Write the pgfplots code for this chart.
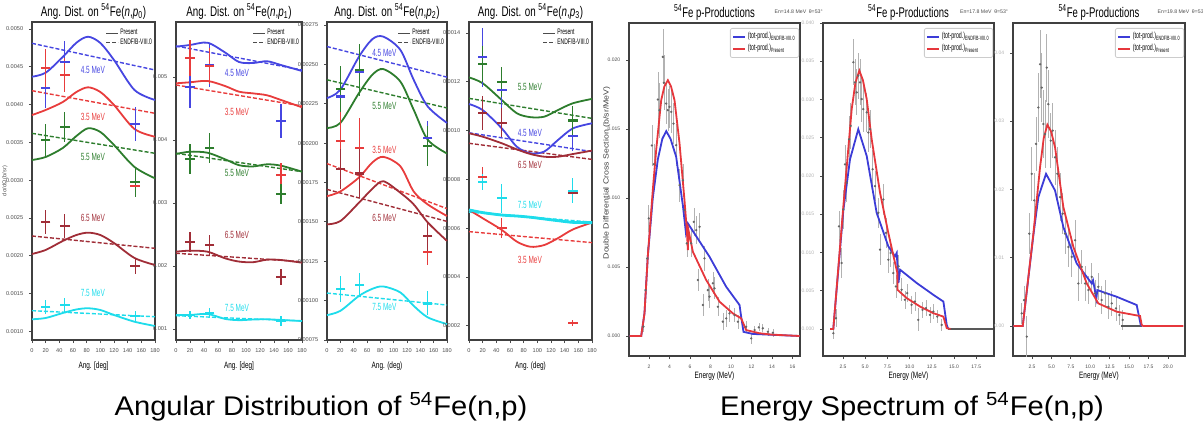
\documentclass[border=0pt]{standalone}
\usepackage{fontspec}
\setmainfont{Liberation Sans}
\usepackage{pgfplots}
\usepackage{pgfplotstable}
\pgfplotsset{compat=1.18}
\newcommand{\sq}[2][0.62]{\scalebox{#1}[1]{#2}}

\definecolor{cBlue}{RGB}{70,70,225}
\definecolor{cRed}{RGB}{232,60,60}
\definecolor{cGreen}{RGB}{45,125,45}
\definecolor{cBrown}{RGB}{160,45,55}
\definecolor{cCyan}{RGB}{30,220,235}
\definecolor{eBlue}{RGB}{60,60,215}
\definecolor{eRed}{RGB}{230,55,60}

% ---------- angular distributions (y in scaled units) ----------
\pgfplotstableread{
a b r g m c
0 43.69 38.62 32.67 20.24 11.60
20 44.22 39.29 33.07 20.77 11.77
45 46.30 40.34 34.26 21.96 12.43
65 48.19 41.67 35.85 22.75 12.90
82 48.98 42.29 36.87 23.06 13.06
100 48.15 41.67 36.38 22.75 12.83
120 45.90 39.95 34.66 21.69 12.17
150 41.93 36.77 31.75 19.71 11.28
180 40.61 35.75 30.25 18.78 10.71
}\PresA
\pgfplotstableread{
a b r g m c
0 48.11 41.84 36.20 22.62 12.74
180 44.58 38.85 33.56 20.99 11.94
}\EndfA
\pgfplotstableread{
a b be r re g ge m me c ce
20 42.24 2.65 44.80 2.6 35.32 2.1 24.51 1.6 13.19 0.9
48 45.60 2.8 43.92 2.2 37.08 2.0 23.94 1.6 13.49 0.9
151 37.43 2.3 29.23 0.7 29.80 2.0 18.65 1.1 12.04 0.7
}\DatA

\pgfplotstableread{
a b r g m c
0 5.481 4.900 3.778 2.227 1.222
20 5.508 4.916 3.814 2.243 1.222
45 5.544 4.937 3.798 2.227 1.238
70 5.39 4.857 3.694 2.122 1.16
90 5.238 4.767 3.60 2.07 1.14
110 5.222 4.74 3.58 2.06 1.15
130 5.25 4.71 3.614 2.10 1.154
150 5.190 4.635 3.592 2.095 1.143
180 5.095 4.519 3.497 2.052 1.127
}\PresB
\pgfplotstableread{
a b r g m c
0 5.492 4.873 3.789 2.202 1.211
180 5.111 4.540 3.497 2.068 1.127
}\EndfB
\pgfplotstableread{
a b be r re g ge m me c ce
20 4.846 0.344 5.306 0.286 3.694 0.238 2.386 0.16 1.222 0.063
48 5.190 0.344 5.179 0.286 3.868 0.238 2.333 0.16 1.249 0.08
150 4.302 0.265 3.444 0.19 3.143 0.16 1.821 0.127 1.132 0.08
}\DatB

\pgfplotstableread{
a b r g m c
0 228.6 166.3 209.6 148.4 90.8
20 233.9 169.3 212.8 150.5 93.5
48 254.9 178.2 231.8 162.2 103.0
68 266.0 187.7 243.4 171.0 107.5
84.5 267.6 191.3 247.0 175.8 109.0
110 259.2 185.3 239.1 168.5 105.2
130 240.2 169.3 221.2 161.1 96.7
151 223.3 161.1 202.2 149.7 89.4
180 212.8 153.7 193.4 137.9 85.1
}\PresC
\pgfplotstableread{
a b r g m c
0 261.3 187.0 240.2 170.6 104.8
180 241.9 158.4 222.3 150.3 97.2
}\EndfC
\pgfplotstableread{
a b be r re g ge m me c ce
20.5 229.6 9.5 201.1 19 234.3 14.6 183.7 12.7 107.3 8.2
48.5 245.4 15.8 197.0 19 246.5 16.5 180.7 15.8 109.8 7.6
151 203.3 10.8 131.1 8.2 198.4 12.7 141.0 9.5 98.2 7.6
}\DatC

\pgfplotstableread{
a b r g m c
0 11.09 6.75 12.18 9.89 6.75
20 10.84 6.41 11.94 9.75 6.64
48 10.09 5.93 11.25 9.48 6.54
70 9.34 5.45 10.71 9.23 6.50
90 9.07 5.24 10.55 9.04 6.45
110 9.14 5.31 10.57 8.93 6.38
130 9.61 5.59 10.84 8.93 6.31
152 10.09 5.95 11.12 9.04 6.24
180 10.30 6.23 11.30 9.18 6.23
}\PresD
\pgfplotstableread{
a b r g m c
0 9.91 5.86 11.32 9.48 6.66
180 9.14 5.41 10.50 8.82 6.25
}\EndfD
\pgfplotstableread{
a b be r re g ge m me c ce
20 13.00 1.2 8.11 0.4 12.72 0.74 10.71 0.7 7.91 0.33
48 11.66 0.8 6.00 0.4 12.00 0.61 10.32 0.6 7.23 0.6
152 9.78 0.6 2.13 0.12 10.41 0.61 7.45 0.2 7.54 0.5
}\DatD

% ---------- energy spectra ----------
\pgfplotstableread{
E v
0.1 0
1.24 0
1.56 0.00164
1.88 0.00575
2.37 0.01058
2.70 0.01348
3.19 0.0171
3.5 0.0181
3.84 0.01855
4.15 0.0181
4.49 0.0171
4.98 0.01396
5.46 0.00986
5.69 0.00768
5.79 0.00623
5.85 0.00768
6.28 0.00611
7.58 0.00406
8.88 0.00249
10.18 0.00164
10.99 0.00128
11.48 0.00043
12.78 0.0002
14.0 0.0001
16.7 0
}\RedE
\pgfplotstableread{
E v
0.1 0
1.24 0
1.56 0.00164
1.88 0.00575
2.37 0.0100
2.86 0.0128
3.3 0.0143
3.68 0.01486
4.1 0.0143
4.65 0.0130
5.14 0.01034
5.23 0.00986
5.3 0.0095
5.6 0.0075
5.79 0.00817
7.9 0.00575
9.53 0.00357
10.83 0.00225
10.99 0.0014
11.22 0.0003
12.13 0.00015
16.7 0
}\BlueE
\pgfplotstableread{
E v e
1.46 0.00068 0.0004
1.66 0.00333 0.0006
1.82 0.00563 0.0008
1.98 0.00853 0.001
2.28 0.01382 0.0015
2.47 0.01246 0.0015
2.86 0.01715 0.002
3.02 0.01638 0.002
3.35 0.02024 0.002
3.45 0.01836 0.002
3.68 0.01686 0.0015
3.84 0.01638 0.0015
4.0 0.01662 0.0015
4.17 0.01625 0.0015
4.39 0.01541 0.0015
4.65 0.01384 0.0015
4.98 0.01094 0.0012
5.30 0.0113 0.0012
5.46 0.00913 0.001
5.69 0.00672 0.001
6.11 0.00672 0.001
6.37 0.00828 0.001
6.6 0.00768 0.001
6.93 0.00792 0.001
6.76 0.00406 0.0008
7.25 0.00225 0.0008
7.41 0.00563 0.0009
7.74 0.00333 0.0008
7.9 0.00285 0.0008
8.23 0.00382 0.0008
8.39 0.00346 0.0008
8.72 0.00212 0.0007
9.2 0.00104 0.0006
9.53 0.00128 0.0006
9.85 0.00164 0.0006
10.34 0.00152 0.0005
10.67 0.00104 0.0005
11.48 0.00067 0.0004
11.97 -0.00017 0.0004
12.3 0.00043 0.0003
12.71 0.00063 0.0003
13.1 0.00056 0.0003
13.59 0.00031 0.0003
14.08 0.00024 0.0003
}\DatE

\pgfplotstableread{
E v
1.04 0
1.41 0
2.54 0.01605
3.48 0.02874
3.9 0.0322
4.34 0.03377
4.75 0.0325
5.17 0.03005
5.73 0.0248
6.67 0.01781
7.6 0.01256
8.36 0.00862
8.62 0.00731
8.63 0.00512
9.67 0.00403
11.17 0.00293
12.67 0.00206
13.8 0.00161
14.18 0.0001
14.6 0
}\RedF
\pgfplotstableread{
E v
1.04 0
1.41 0
2.54 0.0155
3.29 0.02218
4.22 0.02611
5.17 0.02261
6.29 0.01518
7.6 0.0108
8.36 0.00949
8.55 0.00993
8.74 0.006
8.93 0.00774
10.8 0.006
12.67 0.00446
13.8 0.00358
14.18 0.00052
14.35 0
}\BlueF
\pgfplotstableread{
E v e
1.41 -0.00056 0.0008
1.71 0.0014 0.0012
2.05 0.01342 0.002
2.35 0.00862 0.002
2.54 0.01562 0.0025
2.73 0.02152 0.0025
2.92 0.01912 0.0025
3.18 0.0248 0.003
3.37 0.02655 0.003
3.66 0.03487 0.003
3.85 0.03224 0.003
4.04 0.03093 0.003
4.22 0.03311 0.003
4.41 0.03224 0.003
4.6 0.03005 0.003
4.79 0.02874 0.003
5.17 0.02831 0.0025
5.35 0.02568 0.0025
5.54 0.02611 0.0025
5.84 0.02087 0.0025
6.1 0.01867 0.002
6.48 0.01518 0.002
6.67 0.01037 0.002
7.04 0.01693 0.002
7.34 0.01256 0.002
7.6 0.00905 0.0018
7.87 0.00993 0.0018
8.16 0.00731 0.0015
8.46 0.00555 0.0015
8.76 0.00818 0.0015
9.1 0.00512 0.0015
9.47 0.00381 0.0012
9.73 0.00468 0.0012
10.22 0.00315 0.0012
10.59 0.00358 0.0012
10.97 0.00118 0.0015
11.46 0.00249 0.001
11.84 0.00272 0.001
12.29 0.00184 0.001
12.67 0.00227 0.001
13.12 0.00161 0.0008
13.61 0.00052 0.0008
}\DatF

\pgfplotstableread{
E v
0.09 0
1.3 0
2.67 0.01353
3.53 0.02326
4.0 0.0275
4.47 0.02949
4.95 0.0285
5.46 0.02618
6.53 0.01742
7.82 0.01158
9.54 0.00623
11.03 0.00331
13.4 0.00209
16.4 0.00146
16.62 0.00015
16.8 0
21.97 0
}\RedG
\pgfplotstableread{
E v
0.09 0
1.3 0
2.67 0.0133
3.31 0.01888
4.3 0.0223
5.46 0.01986
6.53 0.0145
8.25 0.00915
10.18 0.00623
10.35 0.0067
10.78 0.00404
10.9 0.00526
13.4 0.00428
15.97 0.00307
16.49 0.00015
16.7 0
}\BlueG
\pgfplotstableread{
E v e
1.17 0.00185 0.0015
1.47 0.0038 0.002
1.82 -0.00156 0.003
2.15 0.01353 0.003
2.46 0.0223 0.004
2.79 0.0184 0.004
3.01 0.02667 0.004
3.31 0.03202 0.005
3.53 0.03835 0.005
3.75 0.03494 0.005
3.96 0.02959 0.005
4.17 0.02813 0.005
4.39 0.03786 0.005
4.6 0.03251 0.005
4.91 0.02716 0.004
5.17 0.02862 0.004
5.46 0.02472 0.004
5.76 0.0223 0.004
6.11 0.01888 0.0035
6.45 0.01645 0.003
6.75 0.01353 0.003
7.18 0.01158 0.003
7.61 0.01012 0.003
8.04 0.01256 0.003
8.47 0.00623 0.0025
8.9 0.00866 0.0025
9.33 0.00623 0.0025
9.75 0.00526 0.002
10.18 0.0072 0.002
10.61 0.00477 0.002
11.03 0.00574 0.002
11.46 0.0038 0.002
11.89 0.00477 0.002
12.32 0.00282 0.0018
12.75 0.00331 0.0018
13.3 0.00258 0.0018
13.74 0.00161 0.0015
14.17 0.00088 0.0015
}\DatG

\tikzset{lab/.style={font=\fontsize{5.2}{6}\selectfont, inner sep=0pt}}
\pgfplotsset{
  frame/.style={
    scale only axis, clip=false,
    tick pos=left, tick align=outside, major tick length=1.5pt,
    every tick/.style={line width=0.4pt, black!70},
    axis line style={line width=1pt, black!75},
    tick label style={font=\fontsize{2.8}{3}\selectfont, text=black!70},
    /pgf/number format/assume math mode=true,
    xticklabel style={yshift=0.6pt},
    yticklabel style={xshift=0.6pt},
    every axis title shift=0pt,
    title style={font=\fontsize{7}{8}\selectfont, at={(0.5,1)}, anchor=base, inner sep=0pt, yshift=2.6pt},
  },
  angax/.style={frame, height=159pt,
    xmin=0, xmax=180, xtick={0,20,...,180},
    xlabel style={font=\fontsize{4.6}{5}\selectfont, at={(axis description cs:0.5,-0.045)}, anchor=north},
    legend style={at={(0.995,0.985)}, anchor=north east, draw=none, fill=none,
      font=\fontsize{4}{4.5}\selectfont, inner sep=0.5pt, row sep=-1pt,
      nodes={inner sep=0.6pt}},
    legend cell align=left,
    legend image code/.code={\draw[##1] (0pt,0pt) -- (6pt,0pt);},
  },
  enax/.style={frame, width=85.5pt, height=166.5pt, scaled y ticks=false,
    tick label style={font=\fontsize{2.5}{3}\selectfont},
    xlabel={\sq[0.7]{Energy (MeV)}},
    xlabel style={font=\fontsize{4.6}{5}\selectfont, at={(axis description cs:0.5,-0.027)}, anchor=north},
    title={\sq[0.68]{\textsuperscript{54}Fe p-Productions}},
    legend style={at={(0.995,0.985)}, anchor=north east, draw=black!20, rounded corners=1pt,
      font=\fontsize{4.4}{5}\selectfont, inner sep=1pt, row sep=0pt, nodes={inner sep=0.8pt}},
    legend cell align=left,
    legend image code/.code={\draw[##1, line width=1pt] (0pt,0pt) -- (6pt,0pt);},
  },
  pres/.style={line width=0.9pt, smooth, no markers, forget plot},
  endf/.style={line width=0.7pt, dash pattern=on 2pt off 1pt, no markers, forget plot},
  dat/.style={only marks, mark=-, mark size=2.4pt, mark options={line width=1.1pt, solid}, forget plot,
    error bars/y dir=both, error bars/y explicit, error bars/error mark=none,
    error bars/error bar style={line width=0.6pt, solid}},
  edat/.style={only marks, mark=*, mark size=0.35pt, color=black!60, forget plot,
    error bars/y dir=both, error bars/y explicit, error bars/error mark=none,
    error bars/error bar style={line width=0.3pt, black!30}},
}

\newcommand{\angplots}[3]{%
  \addlegendimage{black!70, line width=0.8pt}\addlegendentry{\sq{Present}}
  \addlegendimage{black!70, line width=0.7pt, dash pattern=on 2pt off 1pt}\addlegendentry{\sq{ENDF/B-VIII.0}}
  \addplot[cBlue,endf] table[x=a,y=b]{#2};
  \addplot[cRed,endf] table[x=a,y=r]{#2};
  \addplot[cGreen,endf] table[x=a,y=g]{#2};
  \addplot[cBrown,endf] table[x=a,y=m]{#2};
  \addplot[cCyan,endf] table[x=a,y=c]{#2};
  \addplot[cBlue,pres] table[x=a,y=b]{#1};
  \addplot[cRed,pres] table[x=a,y=r]{#1};
  \addplot[cGreen,pres] table[x=a,y=g]{#1};
  \addplot[cBrown,pres] table[x=a,y=m]{#1};
  \addplot[cCyan,pres] table[x=a,y=c]{#1};
  \addplot[cBlue,dat] table[x=a,y=b,y error=be]{#3};
  \addplot[cRed,dat] table[x=a,y=r,y error=re]{#3};
  \addplot[cGreen,dat] table[x=a,y=g,y error=ge]{#3};
  \addplot[cBrown,dat] table[x=a,y=m,y error=me]{#3};
  \addplot[cCyan,dat] table[x=a,y=c,y error=ce]{#3};
}

\begin{document}
\begin{tikzpicture}
\path[use as bounding box] (0,0) rectangle (601.5pt,217pt);

% ---------- panel 1 ----------
\begin{axis}[angax, width=61.5pt, at={(16pt,47pt)}, anchor=south west,
  ymin=8.86, ymax=50.93, ytick={10,15,20,25,30,35,40,45,50},
  yticklabels={0.0010,0.0015,0.0020,0.0025,0.0030,0.0035,0.0040,0.0045,0.0050},
  title={\sq[0.7]{Ang. Dist. on \textsuperscript{54}Fe(\textit{n},\textit{p}\textsubscript{0})}},
  xlabel={\sq[0.7]{Ang. [deg]}}]
\angplots{\PresA}{\EndfA}{\DatA}
\node[lab, text=cBlue] at (axis cs:89,44.58) {\sq{4.5 MeV}};
\node[lab, text=cRed] at (axis cs:89,38.36) {\sq{3.5 MeV}};
\node[lab, text=cGreen] at (axis cs:89,33.07) {\sq{5.5 MeV}};
\node[lab, text=cBrown] at (axis cs:89,25.0) {\sq{6.5 MeV}};
\node[lab, text=cCyan] at (axis cs:89,15.08) {\sq{7.5 MeV}};
\node[rotate=90, font=\fontsize{2.8}{3}\selectfont, text=black!70] at (axis description cs:-0.22,0.5) {dσ/dΩ (b/sr)};
\end{axis}

% ---------- panel 2 ----------
\begin{axis}[angax, width=63pt, at={(88pt,47pt)}, anchor=south west,
  ymin=0.825, ymax=5.873, ytick={1,2,3,4,5},
  yticklabels={0.001,0.002,0.003,0.004,0.005},
  title={\sq[0.7]{Ang. Dist. on \textsuperscript{54}Fe(\textit{n},\textit{p}\textsubscript{1})}},
  xlabel={\sq[0.7]{Ang. [deg]}}]
\angplots{\PresB}{\EndfB}{\DatB}
\node[lab, text=cBlue] at (axis cs:87,5.068) {\sq{4.5 MeV}};
\node[lab, text=cRed] at (axis cs:87,4.449) {\sq{3.5 MeV}};
\node[lab, text=cGreen] at (axis cs:87,3.476) {\sq{5.5 MeV}};
\node[lab, text=cBrown] at (axis cs:87,2.492) {\sq{6.5 MeV}};
\node[lab, text=cCyan] at (axis cs:87,1.329) {\sq{7.5 MeV}};
\end{axis}

% ---------- panel 3 ----------
\begin{axis}[angax, width=60pt, at={(163.5pt,47pt)}, anchor=south west,
  ymin=75, ymax=276.9, ytick={75,100,125,150,175,200,225,250,275},
  yticklabels={0.00075,0.00100,0.00125,0.00150,0.00175,0.00200,0.00225,0.00250,0.00275},
  title={\sq[0.7]{Ang. Dist. on \textsuperscript{54}Fe(\textit{n},\textit{p}\textsubscript{2})}},
  xlabel={\sq[0.7]{Ang. (deg)}}]
\angplots{\PresC}{\EndfC}{\DatC}
\node[lab, text=cBlue] at (axis cs:86,257.1) {\sq{4.5 MeV}};
\node[lab, text=cGreen] at (axis cs:86,223.7) {\sq{5.5 MeV}};
\node[lab, text=cRed] at (axis cs:86,195.9) {\sq{3.5 MeV}};
\node[lab, text=cBrown] at (axis cs:86,152.7) {\sq{6.5 MeV}};
\node[lab, text=cCyan] at (axis cs:86,95.7) {\sq{7.5 MeV}};
\end{axis}

% ---------- panel 4 ----------
\begin{axis}[angax, width=61.5pt, at={(234.5pt,47pt)}, anchor=south west,
  ymin=1.42, ymax=14.45, ytick={2,4,6,8,10,12,14},
  yticklabels={0.0002,0.0004,0.0006,0.0008,0.0010,0.0012,0.0014},
  title={\sq[0.7]{Ang. Dist. on \textsuperscript{54}Fe(\textit{n},\textit{p}\textsubscript{3})}},
  xlabel={\sq[0.7]{Ang. (deg)}}]
\angplots{\PresD}{\EndfD}{\DatD}
\addplot[cCyan, pres, line width=1.4pt] table[x=a,y=c]{\PresD};
\node[lab, text=cGreen] at (axis cs:89,11.80) {\sq{5.5 MeV}};
\node[lab, text=cBlue] at (axis cs:89,9.89) {\sq{4.5 MeV}};
\node[lab, text=cBrown] at (axis cs:89,8.59) {\sq{6.5 MeV}};
\node[lab, text=cCyan] at (axis cs:89,6.95) {\sq{7.5 MeV}};
\node[lab, text=cRed] at (axis cs:89,4.70) {\sq{3.5 MeV}};
\end{axis}

% ---------- panel 5 ----------
\begin{axis}[enax, at={(314.5pt,39pt)}, anchor=south west,
  xmin=0.05, xmax=16.73, ymin=-0.00145, ymax=0.0227,
  xtick={2,4,6,8,10,12,14,16},
  ytick={0,0.005,0.01,0.015,0.02}, yticklabels={0.000,0.005,0.010,0.015,0.020}]
\addplot[edat] table[x=E,y=v,y error=e]{\DatE};
\addplot[eBlue, line width=0.9pt, no markers] table[x=E,y=v]{\BlueE};
\addlegendentry{\sq[0.6]{(tot-prod.)\textsubscript{ENDF/B-VIII.0}}}
\addplot[eRed, line width=0.9pt, no markers] table[x=E,y=v]{\RedE};
\addlegendentry{\sq[0.6]{(tot-prod.)\textsubscript{Present}}}
\node[anchor=west, font=\fontsize{2.6}{3}\selectfont, text=black!70] at (rel axis cs:0.81,1.035) {En=14.8 MeV\enspace θ=53°};
\node[rotate=90, font=\fontsize{4.4}{5}\selectfont, text=black!75] at (rel axis cs:-0.13,0.55) {\scalebox{1}[0.85]{Double Differential Cross Section (b/sr/MeV)}};
\end{axis}

% ---------- panel 6 ----------
\begin{axis}[enax, at={(411.5pt,39pt)}, anchor=south west,
  xmin=0.25, xmax=19.5, ymin=-0.00354, ymax=0.040,
  xtick={2.5,5,7.5,10,12.5,15,17.5}, xticklabels={2.5,5.0,7.5,10.0,12.5,15.0,17.5},
  ytick={0,0.005,0.01,0.015,0.02,0.025,0.03,0.035,0.04},
  yticklabels={0.000,0.005,0.010,0.015,0.020,0.025,0.030,0.035,0.040},
  yticklabel style={text=black!30}]
\addplot[edat] table[x=E,y=v,y error=e]{\DatF};
\addplot[black!65, line width=0.6pt, forget plot] coordinates {(1.04,0) (1.41,0)};
\addplot[black!65, line width=0.6pt, forget plot] coordinates {(14.3,0) (19.36,0)};
\addplot[eBlue, line width=0.9pt, no markers] table[x=E,y=v]{\BlueF};
\addlegendentry{\sq[0.6]{(tot-prod.)\textsubscript{ENDF/B-VIII.0}}}
\addplot[eRed, line width=0.9pt, no markers] table[x=E,y=v]{\RedF};
\addlegendentry{\sq[0.6]{(tot-prod.)\textsubscript{Present}}}
\node[anchor=west, font=\fontsize{2.6}{3}\selectfont, text=black!70] at (rel axis cs:0.76,1.035) {En=17.8 MeV\enspace θ=53°};
\end{axis}

% ---------- panel 7 ----------
\begin{axis}[enax, width=86pt, at={(506.5pt,39pt)}, anchor=south west,
  xmin=0.05, xmax=22.19, ymin=-0.0044, ymax=0.0444,
  xtick={2.5,5,7.5,10,12.5,15,17.5,20}, xticklabels={2.5,5.0,7.5,10.0,12.5,15.0,17.5,20.0},
  ytick={0,0.01,0.02,0.03,0.04},
  yticklabels={0.00,0.01,0.02,0.03,0.04},
  yticklabel style={text=black!30}]
\addplot[edat] table[x=E,y=v,y error=e]{\DatG};
\addplot[black!65, line width=0.6pt, forget plot] coordinates {(0.09,0) (1.3,0)};
\addplot[black!65, line width=0.6pt, forget plot] coordinates {(14.0,0) (16.6,0)};
\addplot[eBlue, line width=0.9pt, no markers] table[x=E,y=v]{\BlueG};
\addlegendentry{\sq[0.6]{(tot-prod.)\textsubscript{ENDF/B-VIII.0}}}
\addplot[eRed, line width=0.9pt, no markers] table[x=E,y=v]{\RedG};
\addlegendentry{\sq[0.6]{(tot-prod.)\textsubscript{Present}}}
\node[anchor=west, font=\fontsize{2.6}{3}\selectfont, text=black!70] at (rel axis cs:0.8,1.035) {En=19.8 MeV\enspace θ=53°};
\end{axis}

\node[font=\fontsize{13.5}{15}\selectfont] at (160.5pt,13.5pt) {\scalebox{1.08}[1]{Angular Distribution of \textsuperscript{54}Fe(n,p)}};
\node[font=\fontsize{13.5}{15}\selectfont] at (456pt,13.5pt) {\scalebox{1.08}[1]{Energy Spectrum of \textsuperscript{54}Fe(n,p)}};
\end{tikzpicture}
\end{document}
